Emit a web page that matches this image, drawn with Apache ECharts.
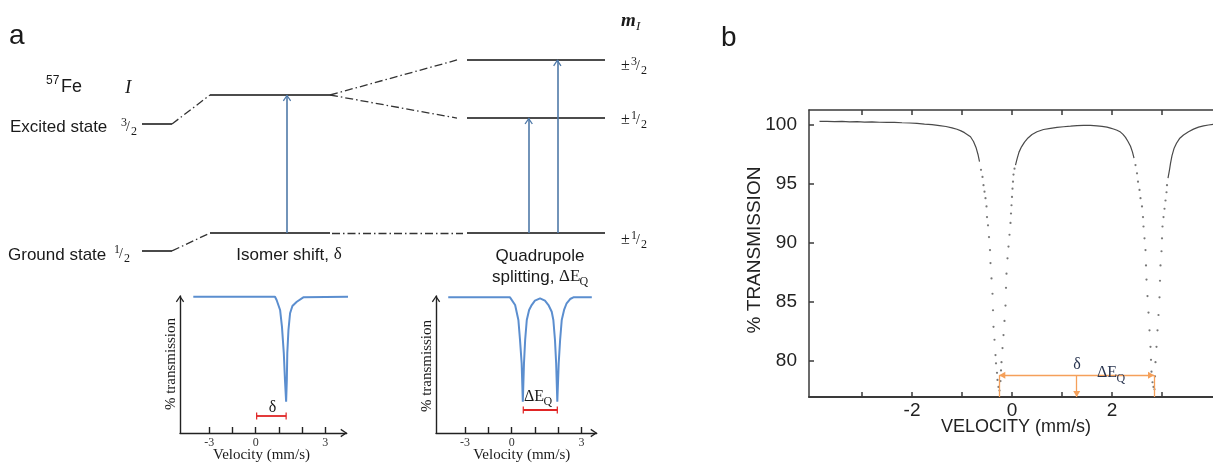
<!DOCTYPE html>
<html>
<head>
<meta charset="utf-8">
<script src="https://cdn.jsdelivr.net/npm/echarts@6/dist/echarts.min.js"></script>
<style>
  html, body { margin: 0; padding: 0; background: #fff; }
  #chart { width: 1213px; height: 464px; }
</style>
</head>
<body>
<div id="chart"></div>
<script>
// ---- panel b: measured spectrum, [velocity mm/s, % transmission] ----
const wingLeft = [[-3.85,100.30],[-3.7,100.31],[-3.55,100.28],[-3.4,100.30],[-3.25,100.27],[-3.1,100.28],
  [-2.95,100.25],[-2.8,100.26],[-2.65,100.23],[-2.5,100.22],[-2.35,100.22],[-2.2,100.19],[-2.05,100.17],
  [-1.9,100.14],[-1.75,100.08],[-1.6,100.03],[-1.45,99.95],[-1.32,99.87],[-1.2,99.76],[-1.1,99.64],
  [-1.02,99.5],[-0.95,99.35],[-0.89,99.18],[-0.83,99.0],[-0.77,98.6],[-0.72,98.1],[-0.68,97.5],[-0.65,96.9]];
const hump = [[0.07,96.6],[0.10,97.1],[0.14,97.7],[0.19,98.15],[0.25,98.55],[0.32,98.9],[0.40,99.2],
  [0.50,99.43],[0.63,99.62],[0.77,99.72],[0.90,99.8],[1.03,99.85],[1.17,99.9],[1.30,99.95],[1.43,99.97],
  [1.57,99.96],[1.70,99.93],[1.80,99.88],[1.90,99.82],[1.97,99.74],[2.03,99.66],[2.10,99.55],[2.17,99.4],
  [2.22,99.2],[2.27,98.95],[2.32,98.6],[2.37,98.2],[2.41,97.7],[2.44,97.2]];
const wingRight = [[3.12,95.5],[3.15,96.2],[3.17,96.75],[3.20,97.4],[3.24,98.0],[3.29,98.45],[3.35,98.85],
  [3.43,99.15],[3.53,99.42],[3.63,99.65],[3.73,99.82],[3.83,99.93],[3.93,100.0],[4.04,100.06]];
const dipLeft = [[-0.62,96.2],[-0.59,95.6],[-0.57,94.9],[-0.55,94.35],[-0.53,93.8],[-0.51,93.1],[-0.50,92.2],
  [-0.48,91.5],[-0.46,90.5],[-0.44,89.4],[-0.43,88.3],[-0.41,87.0],[-0.39,85.7],[-0.38,84.3],[-0.37,82.9],
  [-0.35,81.8],[-0.33,80.5],[-0.32,79.8],[-0.30,79.0],[-0.29,78.4],[-0.27,77.8],[-0.25,77.5],[-0.23,78.3],
  [-0.22,79.2],[-0.21,79.9],[-0.19,81.1],[-0.17,82.2],[-0.15,83.4],[-0.13,84.7],[-0.12,86.2],[-0.11,87.4],
  [-0.09,88.7],[-0.07,89.7],[-0.05,90.7],[-0.03,91.7],[-0.02,92.5],[-0.01,93.2],[0.00,93.9],[0.01,94.6],
  [0.02,95.2],[0.03,95.8],[0.05,96.3]];
const dipRight = [[2.47,96.6],[2.50,95.9],[2.52,95.2],[2.55,94.5],[2.57,93.8],[2.60,93.1],[2.62,92.2],
  [2.63,91.4],[2.65,90.4],[2.67,89.4],[2.68,88.1],[2.69,86.9],[2.71,85.5],[2.73,84.1],[2.75,82.6],
  [2.77,81.2],[2.78,80.1],[2.79,79.1],[2.81,78.2],[2.83,77.8],[2.85,77.6],[2.86,78.7],[2.87,79.9],
  [2.89,81.2],[2.91,82.6],[2.93,83.9],[2.95,85.4],[2.96,86.8],[2.97,88.1],[2.99,89.3],[3.00,90.4],
  [3.01,91.4],[3.03,92.2],[3.05,92.9],[3.07,93.6],[3.09,94.3],[3.10,94.9]];
const velocityTicks = [-3, -2, -1, 0, 1, 2, 3];
const velocityLabels = [-2, 0, 2];
const transmissionTicks = [80, 85, 90, 95, 100];
const peakVelocities = [-0.254, 2.84];   // the two lines, marked in orange
const isomerShiftB = 1.294;
const markerLevel = 78.8;
const bMin = 76.95, bMax = 101.27;

// ---- panel a: level diagram, energy in units of the isomer transition ----
const stubEnergy = [-0.13, 0.79];         // ground, excited (unperturbed, drawn to the left)
const isomerEnergy = [0, 1];              // ground, excited
const quadEnergy = [0, 0.833, 1.254];     // ground ±1/2, excited ±1/2, excited ±3/2

// ---- panel a insets: schematic spectra, x in tick steps, y in % of axis height ----
const inset1Curve = [[-0.69,99.5],[2.83,99.5],[2.90,97.1],[3.05,89.8],[3.13,77.6],[3.21,58.2],[3.26,38.7],
  [3.31,22.8],[3.34,38.7],[3.36,58.2],[3.41,75.2],[3.48,87.4],[3.58,92.7],[3.77,95.8],[4.05,99.0],[6.06,99.5]];
const inset2Curve = [[-0.72,99],[1.93,99],[2.15,93.4],[2.29,82.5],[2.36,67.9],[2.43,50.9],[2.48,22.8],
  [2.53,50.9],[2.58,67.9],[2.65,82.5],[2.75,89.8],[2.86,93.4],[3.0,96.6],[3.22,98.3],[3.43,96.6],[3.58,93.4],
  [3.72,88.5],[3.79,82.5],[3.86,67.9],[3.91,50.9],[3.96,22.8],[4.02,50.9],[4.08,67.9],[4.15,82.5],[4.25,89.8],
  [4.36,94.7],[4.51,97.8],[4.65,99],[5.44,99]];
const insetTicks = [0, 1, 2, 3, 4, 5];
const insetTickLabels = ['-3', '', '0', '', '', '3'];
const inset1Bar = [[2.04, 12.4], [3.31, 12.4]];   // δ
const inset2Bar = [[2.50, 16.8], [3.96, 16.8]];   // ΔEQ

const SANS = "'Liberation Sans', Arial, sans-serif";
const SERIF = "'Liberation Serif', 'Times New Roman', serif";
const INK = '#1a1a1a';
const BLUE = '#5b8ecf';
const ARROW_BLUE = '#4f79a8';
const ORANGE = '#f5a05a';
const RED = '#e02525';

// symbols padded so the tip sits at the symbol centre
const CHEVRON = 'path://M0,0L0,0M16,16L16,16M8,7.4L12.2,13.6L11.1,14.3L8,9.6L4.9,14.3L3.8,13.6Z';
const TRIANGLE = 'path://M0,0L0,0M12,12L12,12M6,6L9.5,12L2.5,12Z';
const BAR = 'path://M0,0L0,0M8,8L8,8M0,3.3L8,3.3L8,4.7L0,4.7Z';

const COL = { stub: [142, 172], iso: [210, 330], fan: 457, quad: [467, 605], isoArrow: 287, quadArrows: [528.7, 557.3] };
const groundStyle = { color: '#4a4a4a', width: 2, opacity: 1 };
const levelStyle = { color: '#111', width: 1.5, opacity: 1 };

function seg(xs, e, style) {
  return { coords: [[xs[0], e], [xs[1], e]], lineStyle: style };
}

const solidLevels = [
  seg(COL.stub, stubEnergy[0], groundStyle), seg(COL.stub, stubEnergy[1], levelStyle),
  seg(COL.iso, isomerEnergy[0], groundStyle), seg(COL.iso, isomerEnergy[1], levelStyle),
  seg(COL.quad, quadEnergy[0], groundStyle), seg(COL.quad, quadEnergy[1], levelStyle),
  seg(COL.quad, quadEnergy[2], levelStyle)
];
const connectors = [
  { coords: [[COL.stub[1], stubEnergy[0]], [COL.iso[0], isomerEnergy[0]]] },
  { coords: [[COL.stub[1], stubEnergy[1]], [COL.iso[0], isomerEnergy[1]]] },
  { coords: [[COL.iso[1] + 2, isomerEnergy[0]], [COL.quad[0] - 4, quadEnergy[0]]] },
  { coords: [[COL.iso[1], isomerEnergy[1]], [COL.fan, quadEnergy[1]]] },
  { coords: [[COL.iso[1], isomerEnergy[1]], [COL.fan, quadEnergy[2]]] }
];
const transitions = [
  { coords: [[COL.isoArrow, isomerEnergy[0]], [COL.isoArrow, isomerEnergy[1]]] },
  { coords: [[COL.quadArrows[0], quadEnergy[0]], [COL.quadArrows[0], quadEnergy[1]]] },
  { coords: [[COL.quadArrows[1], quadEnergy[0]], [COL.quadArrows[1], quadEnergy[2]]] }
];

function txt(x, y, text, font, opt) {
  opt = opt || {};
  const align = opt.align || 'left';
  return {
    type: 'text', x: x, y: y, rotation: opt.rotation || 0, silent: true, z: 10,
    style: {
      text: text, font: font, fill: opt.fill || INK, rich: opt.rich,
      align: align, verticalAlign: 'middle', textAlign: align, textVerticalAlign: 'middle'
    }
  };
}

function frac(x, y, num, size) {
  return [
    txt(x, y - 4.5, num, (size || 12) + 'px ' + SERIF),
    txt(x + 5, y, '/', '14px ' + SERIF),
    txt(x + 10, y + 4.5, '2', (size || 12) + 'px ' + SERIF)
  ];
}

const texts = [
  txt(9, 36, 'a', '28px ' + SANS),
  txt(46, 81, '57', '12px ' + SANS),
  txt(61, 87, 'Fe', '18px ' + SANS),
  txt(125, 88, 'I', 'italic 19px ' + SERIF),
  txt(10, 127, 'Excited state', '17px ' + SANS),
  ...frac(121, 127, '3'),
  txt(8, 255, 'Ground state', '17px ' + SANS),
  ...frac(114, 254, '1'),
  txt(289, 255, 'Isomer shift, {d|δ}', '17px ' + SANS, { align: 'center', rich: { d: { fontFamily: SERIF, fontSize: 17, fill: INK } } }),
  txt(540, 256, 'Quadrupole', '17px ' + SANS, { align: 'center' }),
  txt(492, 277, 'splitting,', '17px ' + SANS),
  txt(559, 277, 'ΔE', '17px ' + SERIF),
  txt(579.5, 282, 'Q', '12px ' + SERIF),
  txt(621, 21, 'm', 'italic bold 19px ' + SERIF),
  txt(636, 27, 'I', 'italic 13px ' + SERIF),
  txt(621, 66, '±', '16px ' + SERIF), ...frac(631, 66, '3'),
  txt(621, 120, '±', '16px ' + SERIF), ...frac(631, 120, '1'),
  txt(621, 240, '±', '16px ' + SERIF), ...frac(631, 240, '1'),
  // insets
  txt(171, 364, '% transmission', '15px ' + SERIF, { align: 'center', rotation: Math.PI / 2 }),
  txt(427, 366, '% transmission', '15px ' + SERIF, { align: 'center', rotation: Math.PI / 2 }),
  txt(261.5, 455, 'Velocity (mm/s)', '15px ' + SERIF, { align: 'center' }),
  txt(521.7, 455, 'Velocity (mm/s)', '15px ' + SERIF, { align: 'center' }),
  txt(272.5, 408, 'δ', '16px ' + SERIF, { align: 'center' }),
  txt(524, 397, 'ΔE', '16px ' + SERIF),
  txt(543.5, 402, 'Q', '12px ' + SERIF),
  // panel b
  txt(721, 38, 'b', '28px ' + SANS),
  txt(755, 250, '% TRANSMISSION', '19px ' + SANS, { align: 'center', rotation: Math.PI / 2, fill: '#222' }),
  txt(1016, 427, 'VELOCITY (mm/s)', '18px ' + SANS, { align: 'center', fill: '#222' }),
  txt(1077, 365, 'δ', '16px ' + SERIF, { align: 'center', fill: '#2a3550' }),
  txt(1097, 373, 'ΔE', '16px ' + SERIF, { fill: '#2a3550' }),
  txt(1116.5, 379, 'Q', '12px ' + SERIF, { fill: '#2a3550' })
];

const insetAxisLine = { show: true, onZero: false, symbol: ['none', CHEVRON], symbolSize: [16, 16], lineStyle: { color: '#222', width: 1.4 } };
function insetX(grid, min, max) {
  return {
    gridIndex: grid, type: 'value', min: min, max: max,
    axisLine: insetAxisLine,
    axisTick: { show: true, inside: true, length: 6, customValues: insetTicks, lineStyle: { color: '#222', width: 1.4 } },
    axisLabel: { show: true, customValues: [0, 2, 5], formatter: (v) => insetTickLabels[Math.round(v)],
      margin: 4, fontFamily: SERIF, fontSize: 12, color: '#333' },
    splitLine: { show: false }
  };
}
function insetY(grid) {
  return { gridIndex: grid, type: 'value', min: 0, max: 100, axisLine: insetAxisLine,
    axisTick: { show: false }, axisLabel: { show: false }, splitLine: { show: false } };
}
const frameLine = { color: '#3a3a3a', width: 1.5 };

const option = {
  animation: false,
  grid: [
    { left: 0, top: 0, width: 700, height: 300, outerBoundsMode: 'none' },
    { left: 180, top: 296, width: 166.7, height: 137, outerBoundsMode: 'none' },
    { left: 436, top: 296, width: 160.7, height: 137, outerBoundsMode: 'none' },
    { left: 809, top: 110, width: 405, height: 287, outerBoundsMode: 'none' }
  ],
  xAxis: [
    { gridIndex: 0, type: 'value', min: 0, max: 700, show: false },
    insetX(1, -1.263, 5.92),
    insetX(2, -1.245, 5.65),
    { gridIndex: 3, type: 'value', min: -4.06, max: 4.04, position: 'bottom',
      axisLine: { show: true, onZero: false, lineStyle: { color: '#3a3a3a', width: 2 } },
      axisTick: { show: true, inside: true, length: 5, customValues: velocityTicks, lineStyle: frameLine },
      axisLabel: { show: true, customValues: velocityLabels, margin: 4, fontFamily: SANS, fontSize: 19, color: '#222' },
      splitLine: { show: false } },
    { gridIndex: 3, type: 'value', min: -4.06, max: 4.04, position: 'top',
      axisLine: { show: true, onZero: false, lineStyle: frameLine },
      axisTick: { show: true, inside: true, length: 5, customValues: velocityTicks, lineStyle: frameLine },
      axisLabel: { show: false }, splitLine: { show: false } }
  ],
  yAxis: [
    { gridIndex: 0, type: 'value', min: -0.4855, max: 1.6884, show: false },
    insetY(1),
    insetY(2),
    { gridIndex: 3, type: 'value', min: bMin, max: bMax,
      axisLine: { show: true, onZero: false, lineStyle: frameLine },
      axisTick: { show: true, inside: true, length: 5, customValues: transmissionTicks, lineStyle: frameLine },
      axisLabel: { show: true, customValues: transmissionTicks, margin: 12, fontFamily: SANS, fontSize: 19, color: '#222' },
      splitLine: { show: false } }
  ],
  series: [
    { type: 'lines', coordinateSystem: 'cartesian2d', xAxisIndex: 0, yAxisIndex: 0, silent: true,
      data: solidLevels, lineStyle: { opacity: 1 } },
    { type: 'lines', coordinateSystem: 'cartesian2d', xAxisIndex: 0, yAxisIndex: 0, silent: true,
      data: connectors, lineStyle: { color: '#333', width: 1.3, opacity: 1, type: [8, 3, 1.5, 3] } },
    { type: 'lines', coordinateSystem: 'cartesian2d', xAxisIndex: 0, yAxisIndex: 0, silent: true,
      data: transitions, symbol: ['none', CHEVRON], symbolSize: 16,
      lineStyle: { color: ARROW_BLUE, width: 1.6, opacity: 1 } },
    { type: 'line', xAxisIndex: 1, yAxisIndex: 1, data: inset1Curve, showSymbol: false, symbol: 'none',
      clip: false, silent: true, lineStyle: { color: BLUE, width: 2 } },
    { type: 'lines', coordinateSystem: 'cartesian2d', xAxisIndex: 1, yAxisIndex: 1, silent: true,
      data: [{ coords: inset1Bar }], symbol: [BAR, BAR], symbolSize: 7,
      lineStyle: { color: RED, width: 1.8, opacity: 1 } },
    { type: 'line', xAxisIndex: 2, yAxisIndex: 2, data: inset2Curve, showSymbol: false, symbol: 'none',
      clip: false, silent: true, lineStyle: { color: BLUE, width: 2 } },
    { type: 'lines', coordinateSystem: 'cartesian2d', xAxisIndex: 2, yAxisIndex: 2, silent: true,
      data: [{ coords: inset2Bar }], symbol: [BAR, BAR], symbolSize: 7,
      lineStyle: { color: RED, width: 1.8, opacity: 1 } },
    ...[wingLeft, hump, wingRight].map((d) => ({
      type: 'line', xAxisIndex: 3, yAxisIndex: 3, data: d, showSymbol: false, symbol: 'none', silent: true,
      lineStyle: { color: '#4a4a4a', width: 1.2 }
    })),
    { type: 'scatter', xAxisIndex: 3, yAxisIndex: 3, data: dipLeft.concat(dipRight), silent: true,
      symbol: 'circle', symbolSize: 2.2, itemStyle: { color: '#555' },
      markLine: {
        silent: true, animation: false, symbol: 'none', label: { show: false }, emphasis: { disabled: true },
        lineStyle: { color: ORANGE, width: 1.3, type: 'solid' },
        data: [
          [{ coord: [peakVelocities[0], markerLevel], symbol: TRIANGLE, symbolSize: 12 },
           { coord: [peakVelocities[1], markerLevel], symbol: TRIANGLE, symbolSize: 12 }],
          [{ coord: [peakVelocities[0], markerLevel], symbol: 'none' }, { coord: [peakVelocities[0], bMin], symbol: 'none' }],
          [{ coord: [peakVelocities[1], markerLevel], symbol: 'none' }, { coord: [peakVelocities[1], bMin], symbol: 'none' }],
          [{ coord: [isomerShiftB, markerLevel], symbol: 'none' }, { coord: [isomerShiftB, bMin], symbol: TRIANGLE, symbolSize: 12 }]
        ]
      } }
  ],
  graphic: { elements: texts }
};

const chart = echarts.init(document.getElementById('chart'), null, { renderer: 'canvas' });
chart.setOption(option);
</script>
</body>
</html>
